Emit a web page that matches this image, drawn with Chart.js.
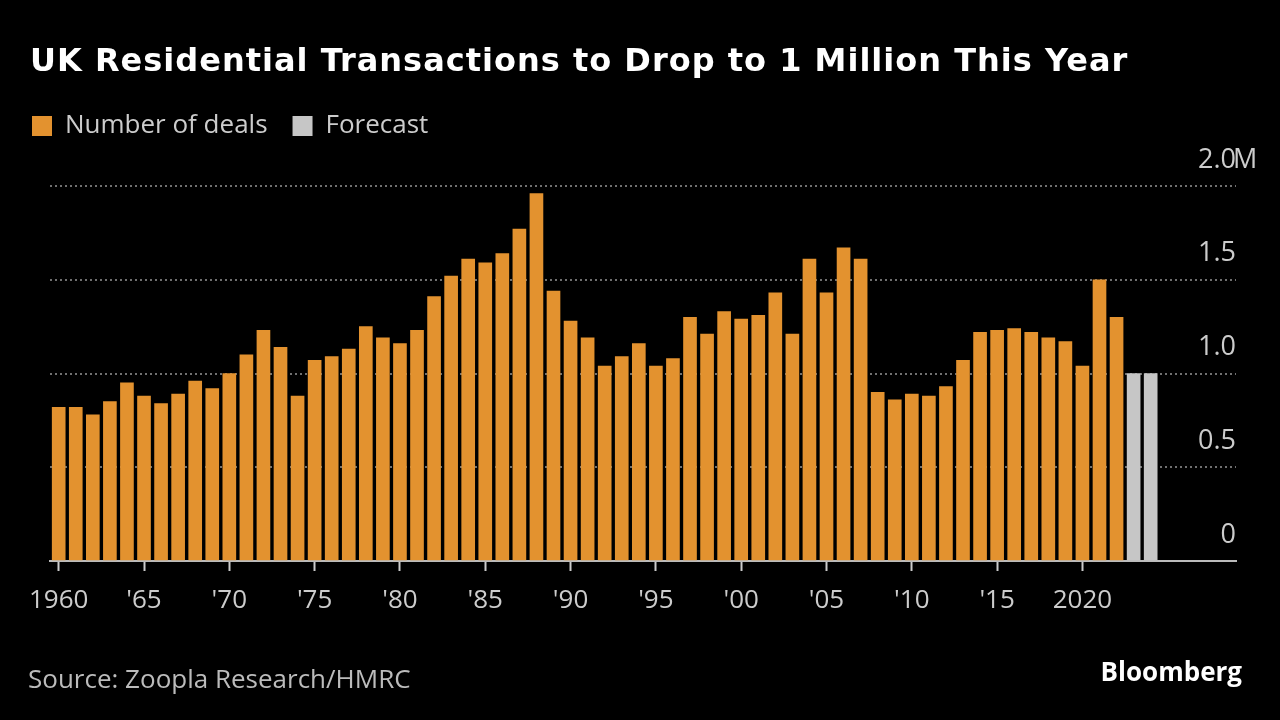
<!DOCTYPE html>
<html>
<head>
<meta charset="utf-8">
<script src="https://cdn.jsdelivr.net/npm/chart.js@4.4.1/dist/chart.umd.min.js"></script>
<style>
  html, body { margin: 0; background: #000; width: 1280px; height: 720px; overflow: hidden; }
  #wrap { position: absolute; left: 0; top: 0; width: 1280px; height: 720px; }
  .title { position: absolute; left: 30px; top: 41px; color: #fff; font: 700 32px "DejaVu Sans"; letter-spacing: 1px; white-space: nowrap; }
  .source { position: absolute; left: 28px; top: 660px; color: #bbb; font: 26px "Open Sans"; }
  .brand { position: absolute; right: 38px; top: 653px; color: #fff; font: 700 26px "Open Sans"; }
</style>
</head>
<body>
<div id="wrap"><canvas id="myChart" width="1280" height="720"></canvas></div>
<div class="title">UK Residential Transactions to Drop to 1 Million This Year</div>
<div class="source">Source: Zoopla Research/HMRC</div>
<div class="brand">Bloomberg</div>
<script>
// residential transactions, millions
const years = [1960, 1961, 1962, 1963, 1964, 1965, 1966, 1967, 1968, 1969,
  1970, 1971, 1972, 1973, 1974, 1975, 1976, 1977, 1978, 1979,
  1980, 1981, 1982, 1983, 1984, 1985, 1986, 1987, 1988, 1989,
  1990, 1991, 1992, 1993, 1994, 1995, 1996, 1997, 1998, 1999,
  2000, 2001, 2002, 2003, 2004, 2005, 2006, 2007, 2008, 2009,
  2010, 2011, 2012, 2013, 2014, 2015, 2016, 2017, 2018, 2019,
  2020, 2021, 2022];
const deals = [0.82, 0.82, 0.78, 0.85, 0.95, 0.88, 0.84, 0.89, 0.96, 0.92,
  1.00, 1.10, 1.23, 1.14, 0.88, 1.07, 1.09, 1.13, 1.25, 1.19,
  1.16, 1.23, 1.41, 1.52, 1.61, 1.59, 1.64, 1.77, 1.96, 1.44,
  1.28, 1.19, 1.04, 1.09, 1.16, 1.04, 1.08, 1.30, 1.21, 1.33,
  1.29, 1.31, 1.43, 1.21, 1.61, 1.43, 1.67, 1.61, 0.90, 0.86,
  0.89, 0.88, 0.93, 1.07, 1.22, 1.23, 1.24, 1.22, 1.19, 1.17,
  1.04, 1.50, 1.30];
const forecastYears = [2023, 2024];
const forecast = [1.0, 1.0];

const tickYears = [1960, 1965, 1970, 1975, 1980, 1985, 1990, 1995, 2000, 2005, 2010, 2015, 2020];
const tickLabels = ['1960', "'65", "'70", "'75", "'80", "'85", "'90", "'95", "'00", "'05", "'10", "'15", '2020'];

const FONT = '"Open Sans"';

// draws the "M" unit after the top y label
const unitPlugin = {
  id: 'unit',
  afterDraw(chart) {
    const y = chart.scales.y;
    const ctx = chart.ctx;
    ctx.save();
    ctx.font = '27px ' + FONT;
    ctx.fillStyle = '#ccc';
    ctx.textAlign = 'left';
    ctx.textBaseline = 'middle';
    ctx.fillText('M', chart.chartArea.right - 3, y.getPixelForValue(2) - 26);
    ctx.restore();
  }
};

const ctx = document.getElementById('myChart').getContext('2d');
const myChart = new Chart(ctx, {
  type: 'bar',
  data: {
    datasets: [{
      label: 'Number of deals',
      data: years.map((yr, i) => ({ x: yr, y: deals[i] })),
      backgroundColor: '#E3922F',
      barThickness: 13
    }, {
      label: 'Forecast',
      data: forecastYears.map((yr, i) => ({ x: yr, y: forecast[i] })),
      backgroundColor: '#C6C6C6',
      barThickness: 13
    }]
  },
  options: {
    responsive: false,
    animation: false,
    grouped: false,
    layout: { padding: { top: 81, left: 7, right: 0, bottom: 0 } },
    plugins: {
      tooltip: { enabled: false },
      legend: {
        position: 'top',
        align: 'start',
        labels: {
          boxWidth: 20,
          boxHeight: 20,
          padding: 25,
          color: '#ccc',
          font: { family: FONT, size: 26 }
        }
      },
      // empty title used only as a gap between legend and plot
      title: {
        display: true,
        text: '',
        weight: 500,
        padding: { top: 27, bottom: 0 },
        font: { size: 10, lineHeight: 1 }
      }
    },
    scales: {
      x: {
        type: 'linear',
        min: 1959.49,
        max: 2029.0,
        offset: false,
        afterBuildTicks: (scale) => { scale.ticks = tickYears.map(v => ({ value: v })); },
        afterFit: (scale) => { scale.paddingLeft = 50; scale.paddingRight = 0; scale.height = 159; },
        grid: { display: true, offset: false, drawOnChartArea: false, drawTicks: true, tickLength: 10, tickColor: '#ccc', tickWidth: 2 },
        border: { display: true, color: '#bbb', width: 2 },
        ticks: {
          color: '#ccc',
          padding: 14,
          maxRotation: 0,
          autoSkip: false,
          font: { family: FONT, size: 26 },
          callback: (v) => tickLabels[tickYears.indexOf(v)]
        }
      },
      y: {
        position: 'right',
        min: 0,
        max: 2,
        afterFit: (scale) => { scale.paddingTop = 186; scale.width = 44; },
        grid: {
          drawTicks: false,
          color: (c) => c.tick.value === 0 ? 'transparent' : '#707070',
          lineWidth: 2
        },
        border: { display: false, dash: [2, 3] },
        ticks: {
          stepSize: 0.5,
          mirror: true,
          padding: 0,
          labelOffset: -26,
          color: '#ccc',
          font: { family: FONT, size: 27 },
          callback: (v) => v === 0 ? '0' : v.toFixed(1)
        }
      }
    }
  },
  plugins: [unitPlugin]
});
</script>
</body>
</html>
